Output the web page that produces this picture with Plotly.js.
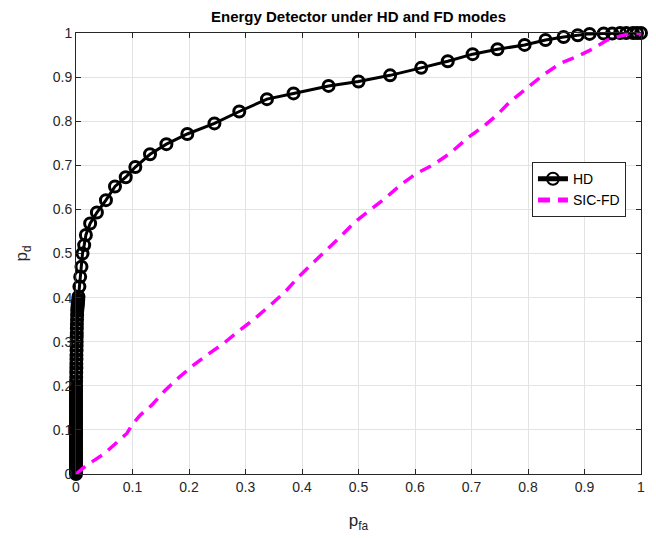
<!DOCTYPE html>
<html>
<head>
<meta charset="utf-8">
<script src="https://cdn.plot.ly/plotly-3.0.1.min.js"></script>
<style>html,body{margin:0;padding:0;background:#fff;}#chart{width:656px;height:538px;}</style>
</head>
<body>
<div id="chart"></div>
<script>
// HD curve (pfa, pd) - dense cluster near pfa = 0, then the rising part
const hdPfa = [0,0,0,0,0,0,0,0,0,0,0,0,0,0,0,0,0,0,0,0,
  0,0,0,0,0,0,0,0,0,0,0,0,0,0,0,0,0,0,0,0,
  0.0002,0.0002,0.0004,0.0004,0.0006,0.0006,0.0008,0.0008,0.001,0.001,0.0012,0.0012,0.0014,0.0015,0.0016,0.0018,0.002,0.0022,0.0025,0.0028,
  0.0032,0.0036,0.004,
  0.0044,0.006,0.0074,0.0097,0.0115,0.0145,0.0175,0.025,0.037,0.053,0.069,0.088,0.105,0.131,0.160,0.197,0.245,0.289,0.338,0.385,0.447,0.500,0.556,0.611,0.658,0.702,0.746,0.794,0.831,0.863,0.888,0.909,0.934,0.949,0.963,0.974,0.986,0.993,1.0];
const hdPd = [0,0.005,0.01,0.015,0.02,0.025,0.03,0.035,0.04,0.045,0.05,0.055,0.06,0.065,0.07,0.075,0.08,0.085,0.09,0.095,
  0.10,0.105,0.11,0.115,0.12,0.125,0.13,0.135,0.14,0.145,0.15,0.155,0.16,0.165,0.17,0.175,0.18,0.185,0.19,0.195,
  0.20,0.21,0.22,0.23,0.24,0.25,0.26,0.27,0.28,0.29,0.30,0.31,0.32,0.33,0.34,0.35,0.36,0.37,0.375,0.38,
  0.385,0.39,0.395,
  0.402,0.425,0.447,0.470,0.500,0.519,0.542,0.568,0.593,0.621,0.652,0.673,0.696,0.725,0.748,0.771,0.795,0.822,0.850,0.863,0.880,0.890,0.904,0.921,0.936,0.952,0.963,0.973,0.984,0.991,0.995,0.998,0.999,0.999,1.0,1.0,1.0,1.0,1.0];
// SIC-FD curve (pfa, pd)
const fdPfa = [0,0.019,0.049,0.072,0.090,0.099,0.114,0.134,0.158,0.184,0.208,0.232,0.261,0.291,0.317,0.344,0.370,0.394,0.420,0.444,0.468,0.494,0.521,0.547,0.574,0.603,0.632,0.662,0.692,0.721,0.745,0.768,0.798,0.827,0.857,0.886,0.916,0.940,0.963,0.980,1.0];
const fdPd = [0,0.020,0.045,0.070,0.092,0.111,0.134,0.156,0.190,0.221,0.247,0.270,0.296,0.327,0.353,0.383,0.413,0.447,0.478,0.509,0.538,0.572,0.599,0.625,0.655,0.682,0.701,0.727,0.761,0.788,0.814,0.844,0.875,0.905,0.931,0.946,0.965,0.984,0.993,0.998,1.0];
const tickVals = [0,0.1,0.2,0.3,0.4,0.5,0.6,0.7,0.8,0.9,1];
const tickText = ['0','0.1','0.2','0.3','0.4','0.5','0.6','0.7','0.8','0.9','1'];

const traces = [
  {x: hdPfa, y: hdPd, name: 'HD', type: 'scatter', mode: 'lines+markers', cliponaxis: false,
   line: {color: '#000000', width: 3},
   marker: {symbol: 'circle-open', size: 11, color: '#000000', line: {width: 3, color: '#000000'}}},
  {x: fdPfa, y: fdPd, name: 'SIC-FD', type: 'scatter', mode: 'lines', cliponaxis: false,
   line: {color: '#ff00ff', width: 3.5, dash: '12px,8px'}}
];

const axisCommon = {
  range: [0, 1], tickmode: 'array', tickvals: tickVals, ticktext: tickText,
  showgrid: true, gridcolor: '#e3e3e3', gridwidth: 1,
  showline: true, linecolor: '#262626', linewidth: 1, mirror: 'ticks',
  ticks: 'inside', ticklen: 5, tickcolor: '#262626',
  zeroline: false, tickfont: {size: 14, color: '#262626'}
};

const layout = {
  width: 656, height: 538,
  margin: {l: 76, r: 15, t: 33, b: 64},
  paper_bgcolor: '#ffffff', plot_bgcolor: '#ffffff',
  font: {family: 'Liberation Sans, Arial, sans-serif', color: '#262626'},
  title: {text: '<b>Energy Detector under HD and FD modes</b>', font: {size: 15, color: '#000000'},
          x: 0.5465, xanchor: 'center', yref: 'container', y: 0.968, yanchor: 'middle'},
  xaxis: Object.assign({}, axisCommon, {title: {text: 'p<sub>fa</sub>', font: {size: 17, color: '#262626'}, standoff: 20}}),
  yaxis: Object.assign({}, axisCommon, {title: {text: 'p<sub>d</sub>', font: {size: 17, color: '#262626'}, standoff: 20}}),
  legend: {x: 0.807, y: 0.707, xanchor: 'left', yanchor: 'top', bgcolor: '#ffffff',
           bordercolor: '#262626', borderwidth: 1, font: {size: 14, color: '#000000'},
           tracegroupgap: 0, itemsizing: 'constant'},
  showlegend: true
};

Plotly.newPlot('chart', traces, layout, {displayModeBar: false, staticPlot: true});
</script>
</body>
</html>
